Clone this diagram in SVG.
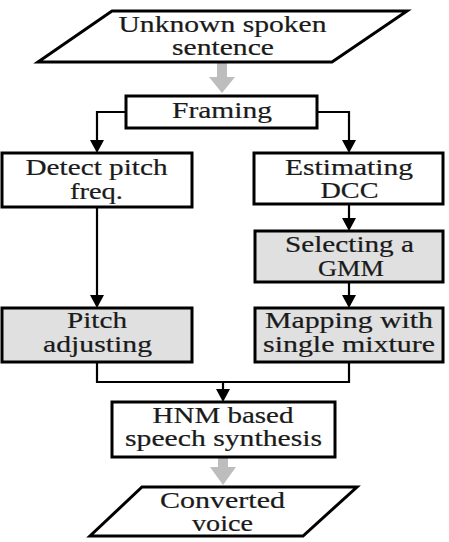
<svg xmlns="http://www.w3.org/2000/svg" width="449" height="542" viewBox="0 0 449 542">
<style>
.box{fill:#ffffff;stroke:#000;stroke-width:3}
.grey{fill:#e0e0e0;stroke:#000;stroke-width:3}
.io{fill:#ffffff;stroke:#000;stroke-width:3;stroke-linejoin:miter}
.t{font-size:22.5px;fill:#1a1a1a;stroke:#1a1a1a;stroke-width:0.2;text-anchor:middle}
.ln{fill:none;stroke:#000;stroke-width:2.2}
.ah{fill:#000}
.ga{fill:#bdbdbd}
</style>
<rect width="449" height="542" fill="#ffffff"/>
<g id="connectors">
  <polygon class="ga" points="217,63 227,63 227,77 235,77 222,93 209,77 217,77"/>
  <polyline class="ln" points="126,112 97,112 97,141"/>
  <polygon class="ah" points="90,140 104,140 97,153"/>
  <polyline class="ln" points="317,112 349,112 349,141"/>
  <polygon class="ah" points="342,140 356,140 349,153"/>
  <line class="ln" x1="97" y1="207" x2="97" y2="296"/>
  <polygon class="ah" points="90,295 104,295 97,308"/>
  <line class="ln" x1="349" y1="204" x2="349" y2="219"/>
  <polygon class="ah" points="342,218 356,218 349,231"/>
  <line class="ln" x1="349" y1="282" x2="349" y2="296"/>
  <polygon class="ah" points="342,295 356,295 349,308"/>
  <polyline class="ln" points="97,362 97,382 349,382 349,362"/>
  <line class="ln" x1="223" y1="382" x2="223" y2="390"/>
  <polygon class="ah" points="216,389 230,389 223,402"/>
  <polygon class="ga" points="218,458 228,458 228,467 236,467 223,485 210,467 218,467"/>
</g>
<g font-family="Liberation Serif, Times New Roman, serif">
<g id="unknown-spoken-sentence">
  <polygon class="io" points="112,11 407,11 332,62 38,62"/>
  <text class="t" x="222.5" y="32" textLength="208" lengthAdjust="spacingAndGlyphs">Unknown spoken</text>
  <text class="t" x="223" y="55" textLength="102" lengthAdjust="spacingAndGlyphs">sentence</text>
</g>
<g id="framing">
  <rect class="box" x="126" y="96" width="191" height="32"/>
  <text class="t" x="222" y="118" textLength="100" lengthAdjust="spacingAndGlyphs">Framing</text>
</g>
<g id="detect-pitch">
  <rect class="box" x="2" y="153" width="190" height="54"/>
  <text class="t" x="96.5" y="175" textLength="142" lengthAdjust="spacingAndGlyphs">Detect pitch</text>
  <text class="t" x="96.5" y="199" textLength="53" lengthAdjust="spacingAndGlyphs">freq.</text>
</g>
<g id="estimating-dcc">
  <rect class="box" x="254" y="153" width="189" height="51"/>
  <text class="t" x="349" y="175" textLength="128" lengthAdjust="spacingAndGlyphs">Estimating</text>
  <text class="t" x="349.5" y="198" textLength="58" lengthAdjust="spacingAndGlyphs">DCC</text>
</g>
<g id="selecting-gmm">
  <rect class="grey" x="255" y="231" width="188" height="51"/>
  <text class="t" x="349.5" y="252" textLength="129" lengthAdjust="spacingAndGlyphs">Selecting a</text>
  <text class="t" x="351" y="276" textLength="66" lengthAdjust="spacingAndGlyphs">GMM</text>
</g>
<g id="pitch-adjusting">
  <rect class="grey" x="2" y="308" width="190" height="54"/>
  <text class="t" x="97" y="328" textLength="60" lengthAdjust="spacingAndGlyphs">Pitch</text>
  <text class="t" x="97.5" y="352" textLength="109" lengthAdjust="spacingAndGlyphs">adjusting</text>
</g>
<g id="mapping">
  <rect class="grey" x="255" y="308" width="188" height="54"/>
  <text class="t" x="349" y="328" textLength="168" lengthAdjust="spacingAndGlyphs">Mapping with</text>
  <text class="t" x="349" y="352" textLength="172" lengthAdjust="spacingAndGlyphs">single mixture</text>
</g>
<g id="hnm-synthesis">
  <rect class="box" x="112" y="402" width="223" height="55"/>
  <text class="t" x="223" y="423" textLength="141" lengthAdjust="spacingAndGlyphs">HNM based</text>
  <text class="t" x="223.5" y="446" textLength="197" lengthAdjust="spacingAndGlyphs">speech synthesis</text>
</g>
<g id="converted-voice">
  <polygon class="io" points="142,487 357,487 303,536 90,536"/>
  <text class="t" x="222.5" y="508" textLength="125" lengthAdjust="spacingAndGlyphs">Converted</text>
  <text class="t" x="222.5" y="531" textLength="61" lengthAdjust="spacingAndGlyphs">voice</text>
</g>
</g>
</svg>
